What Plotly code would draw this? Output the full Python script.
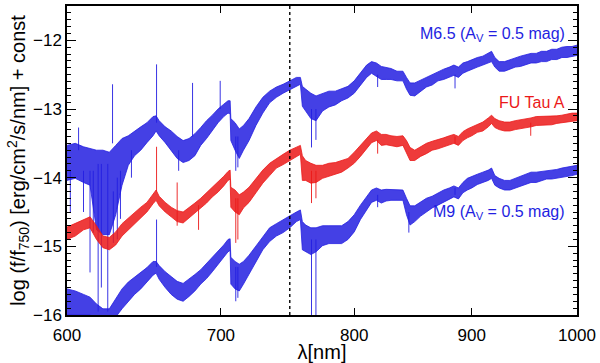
import plotly.graph_objects as go

# wavelength grid [nm] shared by the three spectra
wl = [600, 605, 610, 614, 618, 622, 626, 630, 634, 638, 642, 646, 650, 654, 656, 658,
      662, 666, 670, 674, 678, 682, 686, 690, 694, 698, 702, 705, 706.5, 707, 710, 713,
      716, 720, 725, 730, 735, 740, 745, 750, 755, 758, 759.5, 762, 766, 770, 775, 780,
      785, 790, 795, 800, 805, 810, 814, 818, 822, 826, 830, 835, 840, 843, 846, 850,
      855, 860, 865, 870, 875, 880, 884, 888, 892, 896, 900, 905, 910, 915, 918, 921,
      925, 930, 935, 940, 945, 950, 955, 960, 965, 970, 975, 980, 985, 990, 995, 1000]

# M6.5 template (upper / lower edge of the noisy band)
m65_hi = [-13.53, -13.50, -13.55, -13.58, -13.60, -13.60, -13.63, -13.53, -13.43, -13.39,
          -13.32, -13.26, -13.20, -13.11, -13.10, -13.17, -13.26, -13.32, -13.40, -13.46,
          -13.43, -13.36, -13.27, -13.17, -13.09, -13.00, -12.93, -12.88, -12.88, -13.14,
          -13.20, -13.29, -13.24, -13.14, -12.97, -12.83, -12.74, -12.68, -12.64, -12.59,
          -12.54, -12.54, -12.67, -12.71, -12.77, -12.81, -12.77, -12.74, -12.74, -12.71,
          -12.67, -12.59, -12.48, -12.36, -12.31, -12.33, -12.38, -12.39, -12.41, -12.45,
          -12.45, -12.54, -12.62, -12.62, -12.58, -12.54, -12.49, -12.45, -12.42, -12.39,
          -12.36, -12.39, -12.33, -12.31, -12.28, -12.25, -12.23, -12.19, -12.16, -12.25,
          -12.31, -12.31, -12.28, -12.26, -12.23, -12.21, -12.19, -12.19, -12.16, -12.16,
          -12.13, -12.13, -12.10, -12.09, -12.09, -12.07]
m65_lo = [-14.04, -14.01, -14.07, -14.11, -14.76, -14.83, -14.83, -14.54, -14.11, -13.82,
          -13.68, -13.60, -13.49, -13.39, -13.32, -13.39, -13.49, -13.60, -13.72, -13.78,
          -13.75, -13.68, -13.53, -13.43, -13.32, -13.20, -13.11, -13.06, -13.07, -13.46,
          -13.60, -13.72, -13.60, -13.46, -13.24, -13.06, -12.91, -12.83, -12.77, -12.72,
          -12.67, -12.64, -12.96, -13.03, -13.14, -13.17, -13.03, -12.97, -12.94, -12.88,
          -12.84, -12.77, -12.65, -12.54, -12.48, -12.52, -12.57, -12.57, -12.57, -12.59,
          -12.59, -12.71, -12.80, -12.81, -12.74, -12.68, -12.65, -12.59, -12.57, -12.54,
          -12.51, -12.54, -12.48, -12.45, -12.42, -12.39, -12.36, -12.33, -12.31, -12.39,
          -12.45, -12.45, -12.42, -12.39, -12.38, -12.35, -12.33, -12.33, -12.31, -12.31,
          -12.28, -12.28, -12.25, -12.25, -12.23, -12.22]

# FU Tau A
fu_hi = [-14.72, -14.67, -14.61, -14.57, -14.70, -14.85, -14.87, -14.79, -14.67, -14.59,
         -14.50, -14.43, -14.36, -14.24, -14.18, -14.27, -14.36, -14.43, -14.48, -14.50,
         -14.44, -14.37, -14.30, -14.22, -14.14, -14.07, -13.98, -13.91, -13.89, -14.14,
         -14.18, -14.25, -14.21, -14.14, -14.01, -13.89, -13.79, -13.72, -13.66, -13.60,
         -13.56, -13.53, -13.68, -13.75, -13.79, -13.82, -13.82, -13.79, -13.78, -13.75,
         -13.72, -13.63, -13.53, -13.43, -13.35, -13.32, -13.37, -13.37, -13.39, -13.40,
         -13.39, -13.46, -13.56, -13.60, -13.55, -13.50, -13.47, -13.45, -13.42, -13.39,
         -13.37, -13.40, -13.33, -13.29, -13.26, -13.23, -13.19, -13.13, -13.09, -13.14,
         -13.17, -13.19, -13.19, -13.17, -13.16, -13.14, -13.13, -13.11, -13.11, -13.10,
         -13.10, -13.10, -13.09, -13.07, -13.06, -13.06]
fu_lo = [-14.90, -14.85, -14.76, -14.73, -14.90, -15.02, -15.05, -14.98, -14.85, -14.76,
         -14.67, -14.59, -14.50, -14.38, -14.33, -14.41, -14.50, -14.57, -14.64, -14.66,
         -14.59, -14.51, -14.44, -14.37, -14.28, -14.21, -14.12, -14.04, -14.02, -14.43,
         -14.50, -14.54, -14.44, -14.36, -14.22, -14.08, -13.97, -13.86, -13.81, -13.75,
         -13.69, -13.66, -14.04, -14.04, -14.08, -14.07, -14.01, -13.98, -13.95, -13.92,
         -13.86, -13.79, -13.69, -13.58, -13.49, -13.46, -13.53, -13.52, -13.53, -13.55,
         -13.53, -13.63, -13.75, -13.75, -13.69, -13.65, -13.60, -13.58, -13.55, -13.52,
         -13.50, -13.53, -13.46, -13.42, -13.39, -13.34, -13.32, -13.26, -13.21, -13.27,
         -13.30, -13.32, -13.32, -13.30, -13.29, -13.27, -13.26, -13.24, -13.24, -13.23,
         -13.23, -13.21, -13.20, -13.19, -13.19, -13.17]

# M9 template
m9_hi = [-15.62, -15.65, -15.70, -15.74, -15.84, -15.91, -15.91, -15.77, -15.62, -15.52,
         -15.45, -15.38, -15.31, -15.22, -15.22, -15.28, -15.37, -15.44, -15.51, -15.54,
         -15.48, -15.41, -15.34, -15.25, -15.16, -15.08, -14.98, -14.90, -14.89, -15.16,
         -15.22, -15.26, -15.22, -15.13, -14.99, -14.85, -14.73, -14.67, -14.61, -14.56,
         -14.50, -14.47, -14.64, -14.69, -14.73, -14.73, -14.70, -14.70, -14.70, -14.70,
         -14.64, -14.54, -14.40, -14.27, -14.18, -14.15, -14.18, -14.17, -14.17, -14.18,
         -14.18, -14.30, -14.41, -14.41, -14.36, -14.30, -14.27, -14.22, -14.18, -14.15,
         -14.12, -14.15, -14.07, -14.01, -13.98, -13.95, -13.92, -13.89, -13.86, -13.97,
         -14.01, -14.04, -14.04, -14.01, -13.98, -13.95, -13.92, -13.92, -13.91, -13.89,
         -13.89, -13.88, -13.86, -13.85, -13.84, -13.82]
m9_lo = [-16.00, -16.00, -16.00, -16.00, -16.06, -16.13, -16.13, -16.03, -15.91, -15.80,
         -15.70, -15.62, -15.52, -15.42, -15.39, -15.48, -15.60, -15.70, -15.77, -15.80,
         -15.73, -15.65, -15.55, -15.47, -15.37, -15.26, -15.16, -15.08, -15.06, -15.55,
         -15.62, -15.65, -15.55, -15.41, -15.22, -15.05, -14.93, -14.85, -14.80, -14.73,
         -14.64, -14.61, -15.05, -15.08, -15.12, -15.08, -14.99, -14.96, -14.96, -14.96,
         -14.90, -14.79, -14.61, -14.47, -14.36, -14.33, -14.37, -14.34, -14.33, -14.33,
         -14.33, -14.54, -14.69, -14.64, -14.56, -14.50, -14.44, -14.40, -14.36, -14.31,
         -14.28, -14.31, -14.22, -14.18, -14.15, -14.10, -14.07, -14.04, -14.01, -14.11,
         -14.15, -14.18, -14.18, -14.15, -14.12, -14.10, -14.07, -14.07, -14.04, -14.02,
         -14.02, -14.01, -13.99, -13.98, -13.97, -13.95]

# narrow lines / noise spikes: wavelength, start, end
m65_spk_wl = [602, 607, 610, 614, 616, 619, 621, 625, 628, 628.5, 631, 633, 640, 656.3,
              671, 680.4, 699.5, 710.5, 712, 766.5, 769.9, 819, 885]
m65_spk_a = [-13.9, -13.6, -13.9, -13.9, -13.9, -13.8, -13.8, -13.8, -13.5, -14.2, -14.0,
             -13.9, -13.6, -13.2, -13.6, -13.4, -13.0, -13.4, -13.4, -13.0, -13.0, -12.5, -12.5]
m65_spk_b = [-14.50, -13.27, -14.50, -15.38, -14.80, -15.95, -15.60, -15.95, -12.64, -14.95,
             -14.90, -14.60, -14.00, -12.35, -13.90, -12.62, -12.59, -13.90, -13.85, -13.56,
             -13.45, -12.68, -12.70]

fu_spk_wl = [656.3, 670, 684.5, 710.5, 712, 766.5, 769.9, 819, 885, 954.7]
fu_spk_a = [-14.2, -14.07, -14.4, -14.3, -14.3, -13.9, -13.9, -13.45, -13.40, -13.2]
fu_spk_b = [-13.55, -14.70, -14.76, -14.95, -14.90, -14.37, -14.30, -13.65, -13.50, -13.39]

m9_spk_wl = [656.3, 710.5, 712, 766.5, 769.9, 819, 845, 885]
m9_spk_a = [-15.3, -15.3, -15.3, -14.9, -14.9, -14.25, -14.5, -14.15]
m9_spk_b = [-14.61, -15.80, -15.75, -16.0, -16.0, -14.43, -14.80, -14.25]

labels = ["M6.5 (A<sub>V</sub> = 0.5 mag)", "FU Tau A", "M9 (A<sub>V</sub> = 0.5 mag)"]
label_y = [-11.92, -12.91, -14.51]

BLUE = "rgb(35,30,225)"
RED = "rgb(235,25,25)"
BLUE_F = "rgba(35,30,225,0.85)"
RED_F = "rgba(235,25,25,0.85)"


def band(fig, hi, lo, line_col, fill_col):
    fig.add_trace(go.Scatter(x=wl, y=hi, mode="lines",
                             line=dict(color=line_col, width=0.8), hoverinfo="skip"))
    fig.add_trace(go.Scatter(x=wl, y=lo, mode="lines", fill="tonexty",
                             fillcolor=fill_col,
                             line=dict(color=line_col, width=0.8), hoverinfo="skip"))


def spikes(fig, xs, a, b, col):
    px, py = [], []
    for x, y0, y1 in zip(xs, a, b):
        px += [x, x, None]
        py += [y0, y1, None]
    fig.add_trace(go.Scatter(x=px, y=py, mode="lines",
                             line=dict(color=col, width=0.9), hoverinfo="skip"))


fig = go.Figure()
band(fig, m65_hi, m65_lo, BLUE, BLUE_F)
spikes(fig, m65_spk_wl, m65_spk_a, m65_spk_b, BLUE)
band(fig, m9_hi, m9_lo, BLUE, BLUE_F)
spikes(fig, m9_spk_wl, m9_spk_a, m9_spk_b, BLUE)
band(fig, fu_hi, fu_lo, RED, RED_F)
spikes(fig, fu_spk_wl, fu_spk_a, fu_spk_b, RED)

# reference wavelength 750 nm
fig.add_trace(go.Scatter(x=[750, 750], y=[-16, -11.5], mode="lines",
                         line=dict(color="black", width=1.4, dash="dot"),
                         hoverinfo="skip"))

for txt, y, col in zip(labels, label_y, [BLUE, RED, BLUE]):
    fig.add_annotation(x=0.98, xref="paper", y=y, yref="y", text=txt,
                       showarrow=False, xanchor="right", yanchor="middle",
                       font=dict(color=col, size=16))

fig.update_layout(
    width=600, height=363,
    margin=dict(l=67, r=22, t=4, b=47),
    paper_bgcolor="white", plot_bgcolor="white",
    showlegend=False,
    font=dict(family="Liberation Sans, Arial, sans-serif", size=17, color="black"),
)
fig.update_xaxes(
    type="log", range=[2.77815, 3.0],
    tickvals=[600, 700, 800, 900, 1000], ticktext=["600", "700", "800", "900", "1000"],
    ticks="inside", ticklen=7, tickwidth=1.2, tickcolor="black", ticklabelstandoff=4,
    showline=True, linecolor="black", linewidth=1.5, mirror="allticks",
    showgrid=False, zeroline=False,
    title=dict(text="λ[nm]", standoff=0),
)
fig.update_yaxes(
    range=[-16, -11.5], tickvals=[-16, -15, -14, -13, -12],
    ticks="inside", ticklen=9, tickwidth=1.2, tickcolor="black",
    minor=dict(dtick=0.1, ticks="inside", ticklen=4, tickcolor="black", tickwidth=1),
    showline=True, linecolor="black", linewidth=1.5, mirror="allticks",
    showgrid=False, zeroline=False,
    title=dict(text="log (f/f<sub>750</sub>) [erg/cm<sup>2</sup>/s/nm] + const",
               standoff=2, font=dict(size=20)),
)

# the page body has a default 8px margin; drop it so the figure sits at 0,0
fig.write_html("out.html", config={"displayModeBar": False},
               post_script="document.body.style.margin='0px';")
